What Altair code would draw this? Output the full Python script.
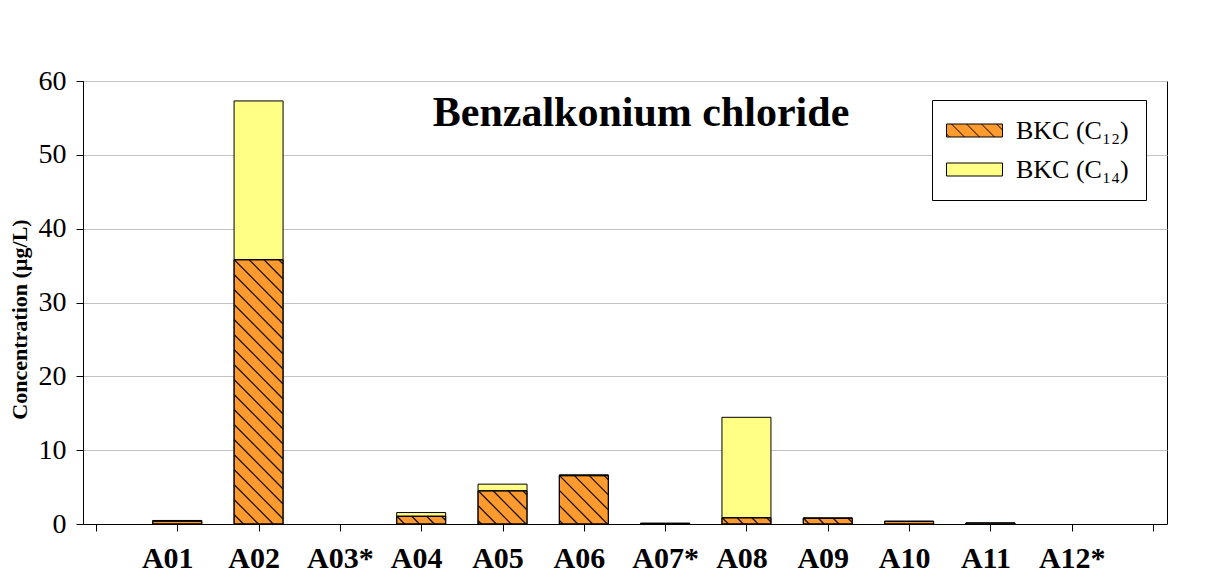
import altair as alt
import pandas as pd
import numpy as np

# ---- data ----
sites = ["A01", "A02", "A03*", "A04", "A05", "A06", "A07*", "A08", "A09", "A10", "A11", "A12*"]
bkc_c12 = [0.40, 35.8, 0.0, 1.05, 4.5, 6.55, 0.10, 0.85, 0.78, 0.35, 0.15, 0.0]
bkc_c14 = [0.08, 21.5, 0.0, 0.50, 0.9, 0.12, 0.0, 13.6, 0.04, 0.03, 0.0, 0.0]
series_keys = ["C12", "C14"]
series_labels = ["BKC (C\u2081\u2082)", "BKC (C\u2081\u2084)"]
y_ticks = [0, 10, 20, 30, 40, 50, 60]

# ---- layout / style ----
W, H = 1084, 443
X_DOMAIN = [-0.0975, 13.11]
Y_MAX = 60
px_x = W / (X_DOMAIN[1] - X_DOMAIN[0])
px_y = H / Y_MAX
BAR_PX = 49
HATCH_SP = 15.0
ORANGE = "#FF9A2E"
YELLOW = "#FFFF85"
FONT = "Liberation Serif"

# stacked bar table
rows = []
for i, s in enumerate(sites):
    lo = 0.0
    for key, vals in (("C12", bkc_c12), ("C14", bkc_c14)):
        v = vals[i]
        if v > 0:
            rows.append({"site": s, "pos": i + 1, "series": key, "y0": lo, "y1": lo + v})
        lo += v
bars = pd.DataFrame(rows)

# hatch lines inside the C12 bars (derived from the bar values)
hrows = []
half = BAR_PX / 2
for i, v in enumerate(bkc_c12):
    hp = v * px_y
    if hp < 3:
        continue
    pos = i + 1
    for c in np.arange(BAR_PX - 4, -hp, -HATCH_SP):
        u1 = max(0.0, c)
        u2 = min(float(BAR_PX), hp + c)
        if u2 - u1 < 1:
            continue
        hrows.append({
            "x": pos - half / px_x + u1 / px_x,
            "x2": pos - half / px_x + u2 / px_x,
            "y": v - (u1 - c) / px_y,
            "y2": v - (u2 - c) / px_y,
        })
hatch = pd.DataFrame(hrows)

# legend symbol paths: symbol size is small (row height follows the text),
# the path itself reaches beyond the unit box to draw the wide swatch
SW, SH = 56.0, 13.0
SYM = 26.0                # sqrt(symbolSize)
R = SYM / 2
hx = (SW / 2) / R
hy = (SH / 2) / R
rect_path = f"M{-hx:.4f},{-hy:.4f}H{hx:.4f}V{hy:.4f}H{-hx:.4f}Z"
hatch_path = rect_path
for c in np.arange(SW - 6, -SH, -HATCH_SP):
    u1 = max(0.0, c)
    u2 = min(SW, SH + c)
    if u2 - u1 < 1:
        continue
    X1, Y1 = u1 / R - hx, (u1 - c) / R - hy
    X2, Y2 = u2 / R - hx, (u2 - c) / R - hy
    hatch_path += f" M{X1:.4f},{Y1:.4f}L{X2:.4f},{Y2:.4f}"

label_expr = "datum.value == '{}' ? '{}' : '{}'".format(series_keys[0], series_labels[0], series_labels[1])
x_label_expr = "[''," + ",".join("'" + s + "'" for s in sites) + ",''][datum.value]"
star_test = " || ".join(f"datum.value == {i + 1}" for i, s in enumerate(sites) if s.endswith("*"))

LEG_PAD = 17
leg = alt.Legend(
    title=None, orient="none", legendX=866 - LEG_PAD, legendY=19,
    labelExpr=label_expr, labelFont=FONT, labelFontSize=26, labelColor="black",
    labelOffset=(SW - SYM) / 2 + 13, symbolOffset=(SW - SYM) / 2 - 3,
    symbolSize=SYM * SYM, symbolStrokeColor="black", symbolStrokeWidth=1,
    strokeColor="black", fillColor="white", padding=LEG_PAD, rowPadding=12,
)

fill_scale = alt.Scale(domain=series_keys, range=[ORANGE, YELLOW])
x_scale = alt.Scale(domain=X_DOMAIN, nice=False, zero=False)
y_scale = alt.Scale(domain=[0, Y_MAX], nice=False)

x_axis = alt.Axis(
    title=None, values=list(range(0, 14)), labelExpr=x_label_expr, grid=False,
    domainColor="black", tickColor="black", tickSize=7, labelFont=FONT,
    labelFontSize=30, labelFontWeight="bold", labelColor="black", labelPadding=12,
    labelOffset={"condition": [{"test": "datum.value == 1", "value": -10},
                               {"test": star_test, "value": 0}],
                 "value": -5},
    labelFlush=False, labelOverlap=False,
)
y_axis = alt.Axis(
    title="Concentration (\u00b5g/L)", values=y_ticks, grid=True, gridColor="#C4C4C4",
    domainColor="black", tickColor="black", tickSize=7, labelFont=FONT, labelFontSize=28,
    labelColor="black", labelPadding=10, titleFont=FONT, titleFontSize=22,
    titleFontWeight="bold", titleColor="black", titlePadding=7, titleY=238,
)

bar_layer = alt.Chart(bars).mark_bar(size=BAR_PX, stroke="black", strokeWidth=1).encode(
    x=alt.X("pos:Q", scale=x_scale, axis=x_axis),
    y=alt.Y("y1:Q", scale=y_scale, axis=y_axis),
    y2="y0:Q",
    fill=alt.Fill("series:N", scale=fill_scale, legend=leg),
)

hatch_layer = alt.Chart(hatch).mark_rule(color="#1a120a", strokeWidth=1.3).encode(
    x="x:Q", x2="x2:Q", y="y:Q", y2="y2:Q",
)

outline_layer = alt.Chart(bars).transform_filter("datum.series == 'C12'").mark_bar(
    size=BAR_PX, stroke="black", strokeWidth=1, fillOpacity=0
).encode(x="pos:Q", y="y1:Q", y2="y0:Q")

legend_layer = alt.Chart(bars).transform_filter("false").mark_point(
    filled=True, stroke="black", strokeWidth=1, opacity=1
).encode(
    x="pos:Q", y="y1:Q",
    fill=alt.Fill("series:N", scale=fill_scale, legend=leg),
    shape=alt.Shape("series:N", scale=alt.Scale(domain=series_keys, range=[hatch_path, rect_path]), legend=leg),
)

chart = alt.layer(bar_layer, hatch_layer, outline_layer, legend_layer).properties(
    width=W, height=H,
    title=alt.TitleParams(
        text="Benzalkonium chloride", font=FONT, fontSize=42, fontWeight="bold",
        color="black", anchor="middle", frame="group", orient="top",
        offset=-47, dy=54, baseline="alphabetic", dx=16,
    ),
    autosize=alt.AutoSizeParams(type="none"),
    padding={"left": 83, "top": 81, "right": 43, "bottom": 54},
    background="white",
).configure_view(stroke="black", strokeWidth=1)

chart.save("out.html", embed_options={"renderer": "svg", "actions": False})
